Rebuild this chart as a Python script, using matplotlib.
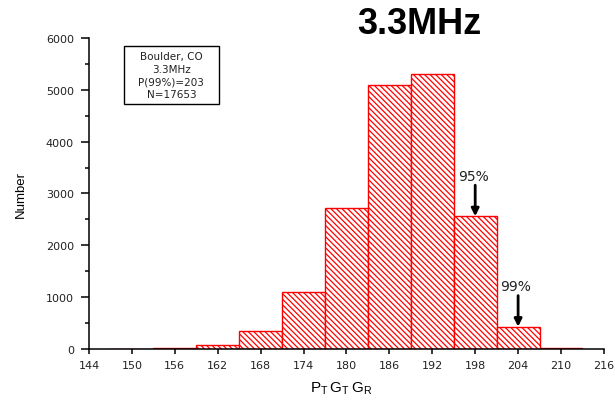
import matplotlib
matplotlib.use('Agg')
import matplotlib.pyplot as plt
from matplotlib.patches import Rectangle
from matplotlib.ticker import MultipleLocator

# histogram of P_T G_T G_R, Boulder CO, 3.3 MHz
centers = [150, 156, 162, 168, 174, 180, 186, 192, 198, 204, 210]
counts = [5, 20, 70, 340, 1090, 2720, 5100, 5300, 2560, 430, 15]
bin_width = 6
xticks = list(range(144, 217, 6))
yticks = list(range(0, 6001, 1000))

# percentile markers: (label, x, bar height)
p95 = ('95%', 198, 2560)
p99 = ('99%', 204, 430)

plt.rcParams['font.family'] = ['Liberation Sans', 'DejaVu Sans']
plt.rcParams['hatch.linewidth'] = 0.9

fig = plt.figure(figsize=(6.15, 4.02), dpi=100)
ax = fig.add_axes([0.1447, 0.1294, 0.8373, 0.7736])

ax.bar(centers, counts, width=bin_width, facecolor='white', edgecolor='red',
       linewidth=1.0, hatch='\\' * 6)

ax.set_xlim(144, 216)
ax.set_ylim(0, 6000)
ax.set_xticks(xticks)
ax.set_yticks(yticks)
ax.yaxis.set_minor_locator(MultipleLocator(500))

for s in ['top', 'right']:
    ax.spines[s].set_visible(False)
for s in ['left', 'bottom']:
    ax.spines[s].set_linewidth(1.1)

tick_font = {'family': 'DejaVu Sans', 'size': 8}
ax.tick_params(axis='x', direction='out', length=3.8, width=1.1, pad=4,
               labelcolor='#222222')
ax.tick_params(axis='y', which='major', direction='out', length=5.8, width=1.1,
               pad=5, labelcolor='#222222')
ax.tick_params(axis='y', which='minor', direction='out', length=2.6, width=1.1)
for lbl in ax.get_xticklabels() + ax.get_yticklabels():
    lbl.set_fontfamily(tick_font['family'])
    lbl.set_fontsize(tick_font['size'])

ax.set_ylabel('Number', fontsize=9.5, labelpad=14)
ax.set_xlabel(r'$\mathregular{P_T\,G_T\,G_R}$', fontsize=11)
ax.xaxis.set_label_coords(0.49, -0.098)

fig.text(0.682, 0.938, '3.3MHz', fontsize=26, fontweight='bold',
         ha='center', va='center')

# info box
ax.add_patch(Rectangle((0.068, 0.787), 0.184, 0.187, transform=ax.transAxes,
                       fc='white', ec='black', lw=1, clip_on=False))
ax.text(0.160, 0.881, 'Boulder, CO\n3.3MHz\nP(99%)=203\nN=17653',
        transform=ax.transAxes, ha='center', va='center', fontsize=7.5,
        family='DejaVu Sans', linespacing=1.3, color='#222222')

for lab, xv, top in [p95, p99]:
    ax.annotate('', xy=(xv, top), xytext=(xv, top + 600),
                arrowprops=dict(arrowstyle='-|>', lw=2, color='black',
                                mutation_scale=11, shrinkA=0, shrinkB=0))
    ax.text(xv - 0.3, top + 780, lab, ha='center', va='center', fontsize=10,
            family='DejaVu Sans', color='#222222')

fig.savefig('out.png', dpi=100)
